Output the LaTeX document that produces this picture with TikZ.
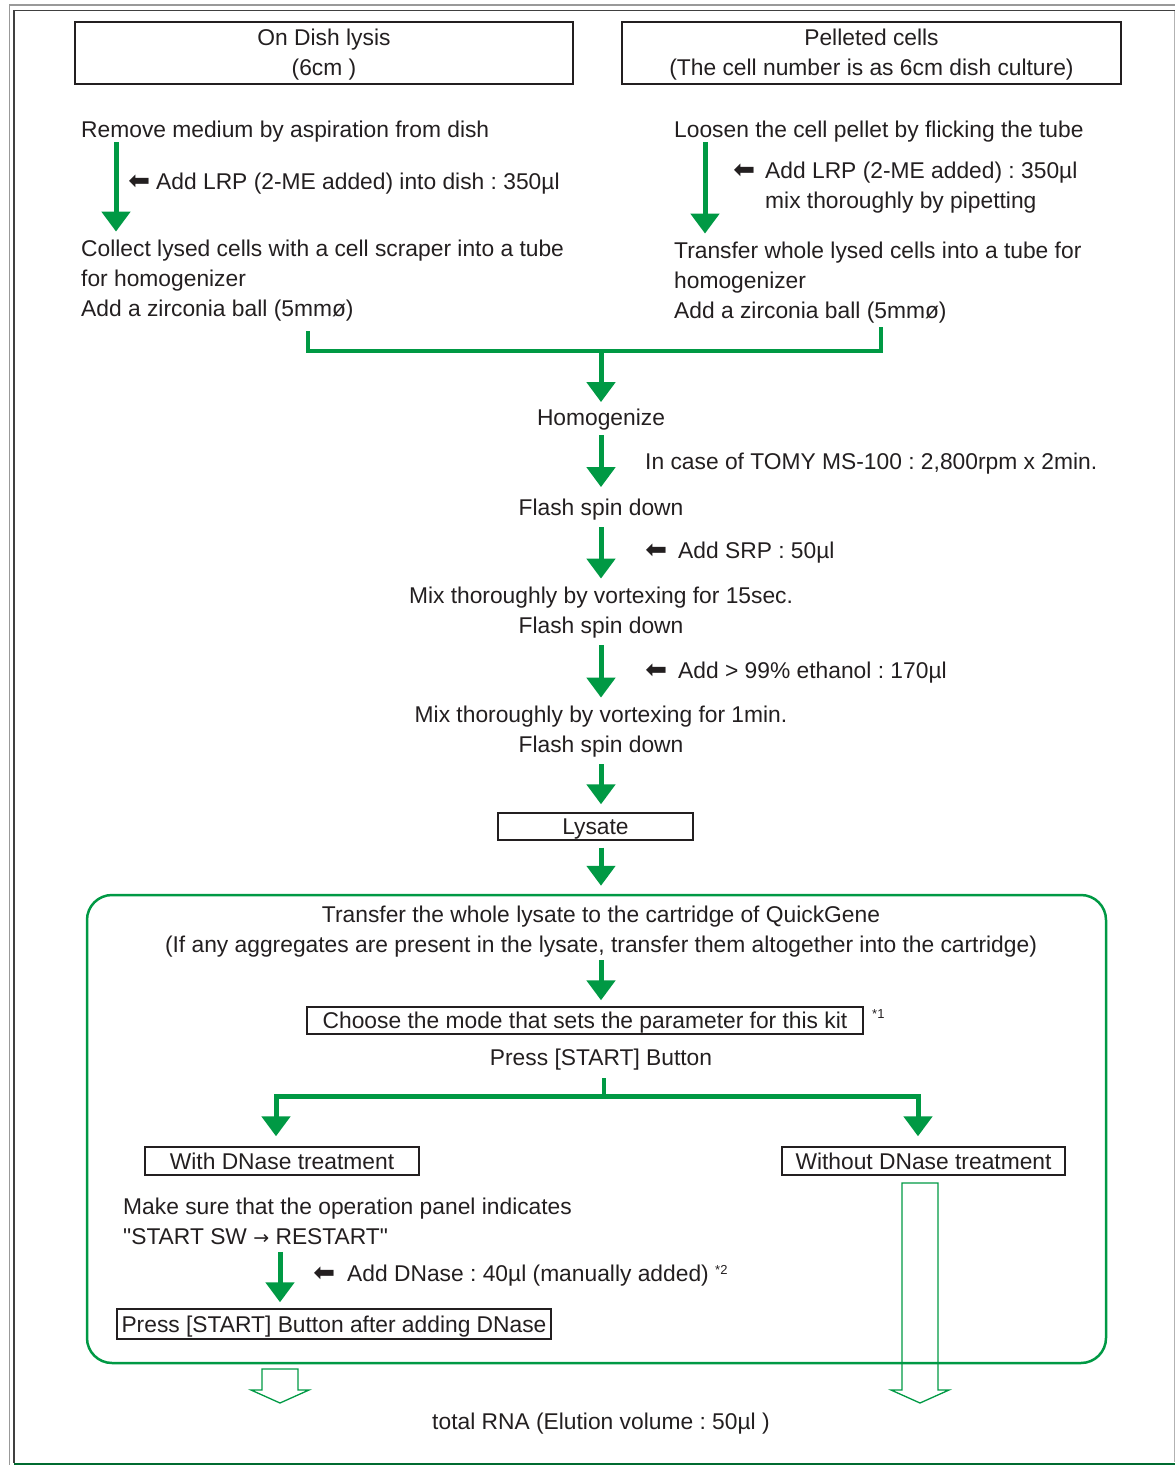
\documentclass[tikz,border=0pt]{standalone}
\usepackage{fontspec}
\setmainfont{Liberation Sans}
\newfontfamily\symfont{DejaVu Sans}
\usetikzlibrary{arrows.meta}
\definecolor{kitgreen}{RGB}{0,153,68}
\definecolor{inkgray}{RGB}{35,31,32}
\frenchspacing

\newcommand{\addmark}{{\symfont\fontsize{26}{26}\selectfont ⬅}}

\begin{document}
\begin{tikzpicture}[
    x=1pt, y=-1pt,
    font=\fontsize{22.8}{30}\selectfont,
    text=inkgray,
    proc text/.style={inner sep=0pt, anchor=north west, align=left},
    mid text/.style={inner sep=0pt, anchor=north, align=center},
    label box/.style={draw=inkgray, line width=1.4pt, inner sep=4pt, align=center},
    one line/.style={text height=16.4pt, text depth=0pt},
    green arrow/.style={draw=kitgreen, line width=5pt, shorten <=7pt, shorten >=8pt, -{Triangle[width=28pt,length=20pt]}},
    green line/.style={draw=kitgreen, line width=4.5pt, line join=miter},
    cartridge box/.style={draw=kitgreen, line width=2.5pt, rounded corners=25pt, minimum width=1019pt, minimum height=468pt},
    hollow arrow/.style={draw=kitgreen, line width=1.3pt, line join=miter},
    note mark/.style={inner sep=0pt, anchor=north west, font=\fontsize{13}{13}\selectfont}
]
    \useasboundingbox (0,0) rectangle (1175,1465);

    % page frame
    \draw[black!40, line width=1.5pt] (9.5,1465) -- (9.5,5) -- (1175,5);
    \draw[black!75, line width=1.5pt] (14,1463) -- (14,10.5) -- (1175,10.5);
    \draw[black!30, line width=1pt] (1174,11) -- (1174,1462);
    \draw[kitgreen!70!black, line width=2pt] (14,1464) -- (1175,1464);

    \coordinate (left axis) at (116,0);
    \coordinate (right axis) at (705,0);
    \coordinate (main axis) at (601,0);
    \coordinate (dnase axis) at (280,0);

    % two starting points
    \node[label box, minimum width=498pt, minimum height=62pt] (dish) at (324,53) {\rule{0pt}{19pt}On Dish lysis\\(6cm )};
    \node[label box, minimum width=499pt, minimum height=62pt] (pellet) at (871.5,53) {\rule{0pt}{19pt}Pelleted cells\\(The cell number is as 6cm dish culture)};

    \node[proc text] (remove) at (81,120.6) {Remove medium by aspiration from dish};
    \node[proc text] (add lrp dish) at (156,172.6) {\llap{\addmark\hspace{6pt}}Add LRP (2-ME added) into dish : 350µl};
    \node[proc text] (collect) at (81,239.6) {Collect lysed cells with a cell scraper into a tube\\for homogenizer\\Add a zirconia ball (5mmø)};

    \node[proc text] (loosen) at (674,120.6) {Loosen the cell pellet by flicking the tube};
    \node[proc text] (add lrp tube) at (765,161.6) {\llap{\addmark\hspace{10pt}}Add LRP (2-ME added) : 350µl\\mix thoroughly by pipetting};
    \node[proc text] (transfer whole) at (674,241.6) {Transfer whole lysed cells into a tube for\\homogenizer\\Add a zirconia ball (5mmø)};

    \draw[green arrow, shorten <=0pt] (remove.south -| left axis) -- (collect.north -| left axis);
    \draw[green arrow, shorten <=0pt] (loosen.south -| right axis) -- (transfer whole.north -| right axis);

    % both branches join
    \coordinate (merge left) at (308,351);
    \coordinate (merge right) at (881,351);
    \draw[green line, shorten <=10pt, shorten >=4pt] (collect.south -| merge left) -- (merge left) -- (merge right) -- (transfer whole.south -| merge right);

    \node[mid text] (homogenize) at (601,408.6) {Homogenize};
    \draw[green arrow, shorten <=0pt, shorten >=6.5pt] (merge left -| main axis) -- (homogenize);

    \node[proc text] (tomy) at (645,452.6) {In case of TOMY MS-100 : 2,800rpm x 2min.};
    \node[mid text] (flash one) at (601,498.6) {Flash spin down};
    \draw[green arrow, shorten <=5pt, shorten >=11.5pt] (homogenize) -- (flash one);

    \node[proc text] (add srp) at (678,541.6) {\llap{\addmark\hspace{11pt}}Add SRP : 50µl};
    \node[mid text] (mix short) at (601,586.6) {Mix thoroughly by vortexing for 15sec.\\Flash spin down};
    \draw[green arrow] (flash one) -- (mix short);

    \node[proc text] (add ethanol) at (678,661.6) {\llap{\addmark\hspace{11pt}}Add > 99\% ethanol : 170µl};
    \node[mid text] (mix long) at (601,705.6) {Mix thoroughly by vortexing for 1min.\\Flash spin down};
    \draw[green arrow] (mix short) -- (mix long);

    \node[label box, one line, minimum width=195pt, minimum height=27pt] (lysate) at (595.5,826.5) {Lysate};
    \draw[green arrow] (mix long.south) -- (lysate.north -| main axis);

    % QuickGene part
    \node[cartridge box] (cartridge) at (596.5,1129) {};
    \draw[green arrow] (lysate.south -| main axis) -- (cartridge.north -| main axis);

    \node[mid text] (transfer cartridge) at (601,905.6) {Transfer the whole lysate to the cartridge of QuickGene\\(If any aggregates are present in the lysate, transfer them altogether into the cartridge)};
    \node[label box, one line, minimum width=556pt, minimum height=27pt] (choose) at (585,1020.5) {Choose the mode that sets the parameter for this kit};
    \node[note mark] (note one) at (872,1009) {*1};
    \draw[green arrow, shorten <=3pt, shorten >=6pt] (transfer cartridge.south -| main axis) -- (choose.north -| main axis);

    \node[mid text] (press start) at (601,1048.6) {Press [START] Button};
    \coordinate (split) at (604,1096);
    \draw[green line, shorten <=8pt] (press start.south -| split) -- (split);

    \node[label box, one line, minimum width=274pt, minimum height=28pt] (with dnase) at (282,1161) {With DNase treatment};
    \node[label box, one line, minimum width=283pt, minimum height=28pt] (without dnase) at (923.5,1161) {Without DNase treatment};
    \draw[green arrow, shorten <=0pt, shorten >=10pt] (split) -| ([xshift=-6pt]with dnase.north);
    \draw[green arrow, shorten <=0pt, shorten >=10pt] (split) -| ([xshift=-5.5pt]without dnase.north);

    \node[proc text] (make sure) at (123,1197.6) {Make sure that the operation panel indicates\\\textquotedbl START SW {\symfont\fontsize{19}{19}\selectfont →} RESTART\textquotedbl};
    \node[proc text] (add dnase) at (347,1264.6) {\llap{\addmark\hspace{12pt}}Add DNase : 40µl (manually added) \raisebox{7pt}{\fontsize{13}{13}\selectfont *2}};
    \node[label box, one line, minimum width=434pt, minimum height=30pt] (press after) at (334,1324) {Press [START] Button after adding DNase};
    \draw[green arrow, shorten >=6pt] (make sure.south -| dnase axis) -- (press after.north -| dnase axis);

    % outlined arrows to the result
    \draw[hollow arrow] (262,1369) -- (262,1390) -- (251,1390) -- (280,1403) -- (309,1390) -- (298,1390) -- (298,1369) -- cycle;
    \draw[hollow arrow] (902,1183) -- (902,1390) -- (891,1390) -- (920,1403) -- (949,1390) -- (938,1390) -- (938,1183) -- cycle;

    \node[mid text] (total rna) at (601,1412.6) {total RNA (Elution volume : 50µl )};
\end{tikzpicture}
\end{document}
